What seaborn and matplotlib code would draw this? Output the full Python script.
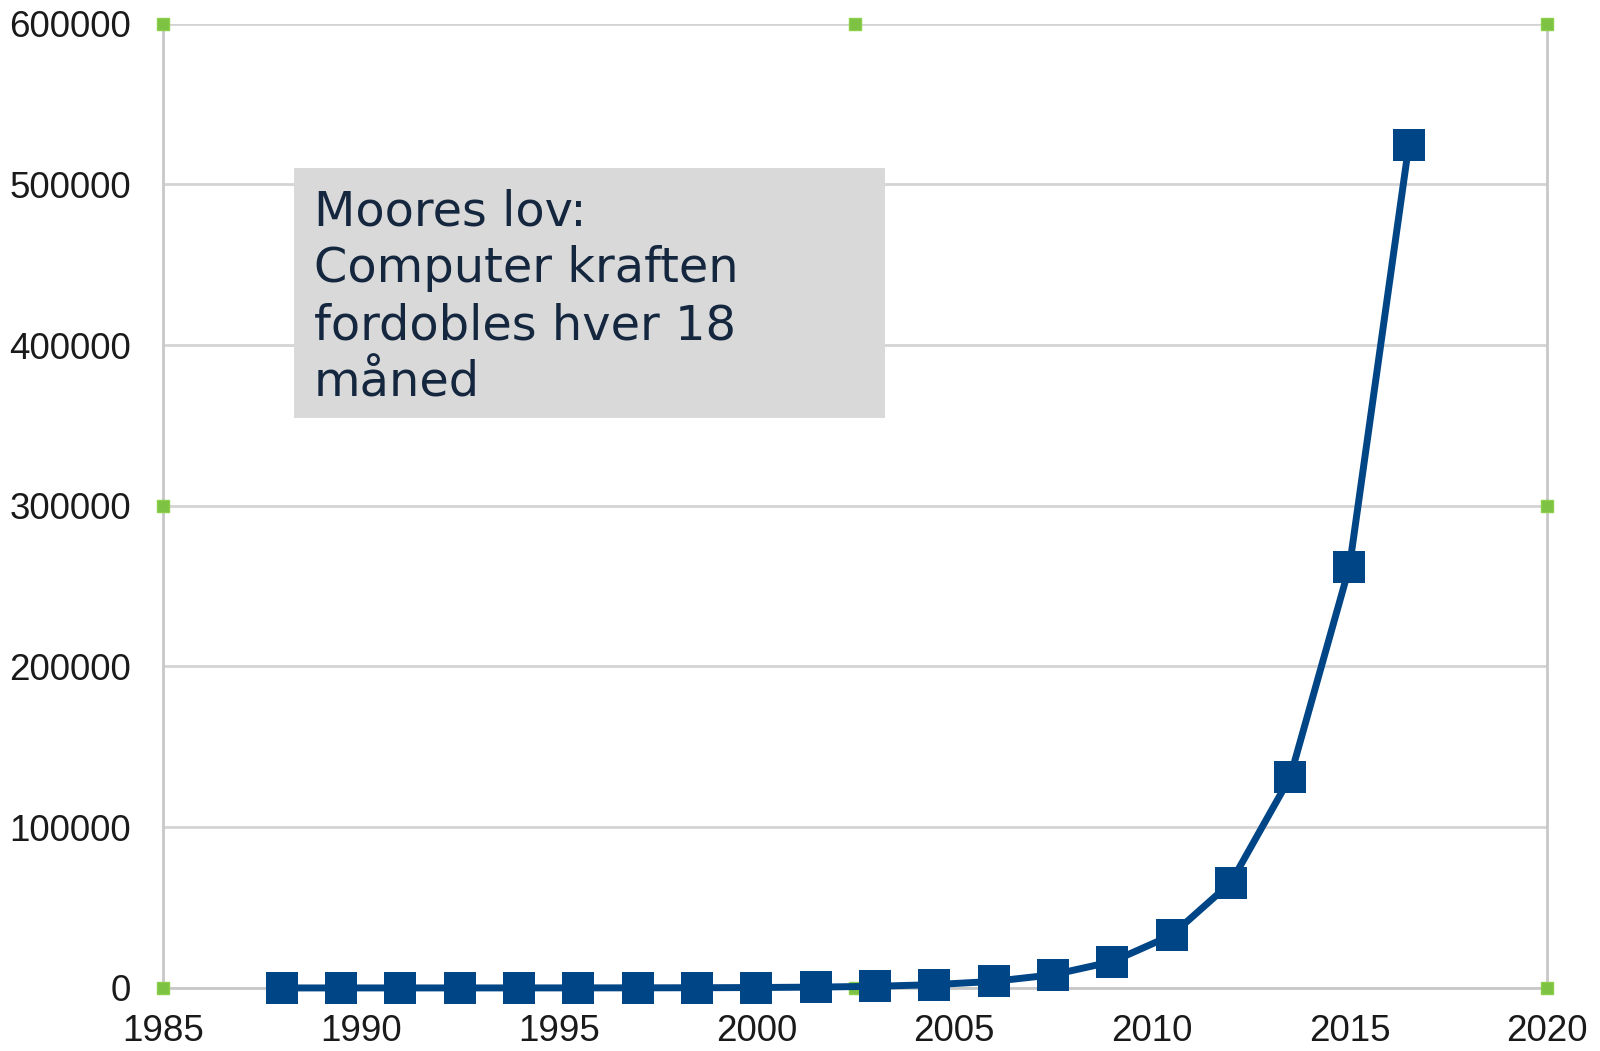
import matplotlib
matplotlib.use("Agg")
import matplotlib.pyplot as plt
import seaborn as sns
from matplotlib.patches import Rectangle

# Moores lov - doubling every 18 months
years = [1988, 1989.5, 1991, 1992.5, 1994, 1995.5, 1997, 1998.5, 2000, 2001.5,
         2003, 2004.5, 2006, 2007.5, 2009, 2010.5, 2012, 2013.5, 2015, 2016.5]
power = [1, 2, 4, 8, 16, 32, 64, 128, 256, 512,
         1024, 2048, 4096, 8192, 16384, 32768, 65536, 131072, 262144, 524288]
xticks = [1985, 1990, 1995, 2000, 2005, 2010, 2015, 2020]
yticks = [0, 100000, 200000, 300000, 400000, 500000, 600000]
note = "Moores lov:\nComputer kraften\nfordobles hver 18\nmåned"

sns.set_style("white")
plt.rcParams['font.family'] = ['Liberation Sans', 'DejaVu Sans']

fig = plt.figure(figsize=(16, 10.51), dpi=100)
ax = fig.add_axes([0.102, 0.060, 0.865, 0.9176])

sns.lineplot(x=years, y=power, ax=ax, color='#004586', linewidth=5,
             marker='s', markersize=23, markeredgewidth=0, zorder=5, clip_on=False)

ax.set_xlim(1985, 2020)
ax.set_ylim(0, 600000)
ax.set_xticks(xticks)
ax.set_yticks(yticks)
ax.yaxis.grid(True, color='#d4d4d4', linewidth=2)
ax.xaxis.grid(False)
for s in ['left', 'bottom', 'right']:
    ax.spines[s].set_color('#c8c8c8')
    ax.spines[s].set_linewidth(2)
ax.spines['top'].set_visible(False)
ax.tick_params(axis='both', labelsize=26.5, colors='#c8c8c8', labelcolor='#1a1a1a',
               length=15, width=2, direction='out')
ax.tick_params(axis='x', pad=4)
ax.tick_params(axis='y', pad=8)

# green selection handles
hx = [0, 0.5, 1, 0, 1, 0, 0.5, 1]
hy = [1, 1, 1, 0.5, 0.5, 0, 0, 0]
ax.scatter(hx, hy, transform=ax.transAxes, marker='s', s=70, color='#7dc242',
           edgecolor='#8bd04a', clip_on=False, zorder=4)

fig.patches.append(Rectangle((0.184, 0.6023), 0.369, 0.238, transform=fig.transFigure,
                             facecolor='#d9d9d9', edgecolor='none', zorder=10))
fig.text(0.196, 0.821, note, fontsize=34.5, color='#14273e', va='top', ha='left',
         family=['DejaVu Sans'], linespacing=1.27, zorder=11)

fig.savefig("out.png", dpi=100)
